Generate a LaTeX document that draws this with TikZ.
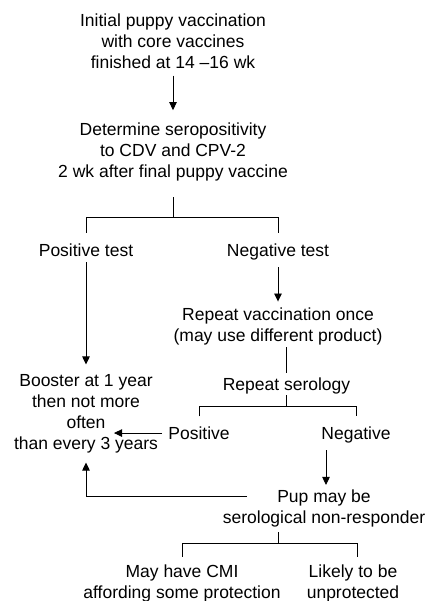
\documentclass[tikz,border=0pt]{standalone}
\usepackage{fontspec}
\setmainfont{Liberation Sans}
\usetikzlibrary{calc,arrows.meta}
\begin{document}
\begin{tikzpicture}[x=1pt,y=-1pt,
  txt/.style={inner sep=0pt, align=center, font=\fontsize{17.5}{21}\selectfont},
  ln/.style={line width=0.9pt},
  arr/.style={ln,-{Triangle[length=8pt,width=7.5pt]}}]
\useasboundingbox (0,0) rectangle (427,601);

\node[txt] (init) at (173,41) {Initial puppy vaccination\\with core vaccines\\finished at 14 –16 wk};
\node[txt] (det) at (173,152) {Determine seropositivity\\to CDV and CPV-2\\2 wk after final puppy vaccine};
\node[txt,anchor=base] (pt) at (86,256.3) {Positive test};
\node[txt,anchor=base] (nt) at (278,256.3) {Negative test};
\node[txt] (repvac) at (278,326.4) {Repeat vaccination once\\(may use different product)};
\node[txt,anchor=base] (repser) at (286.5,390.3) {Repeat serology};
\node[txt] (booster) at (86,413.5) {Booster at 1 year\\then not more\\often\\than every 3 years};
\node[txt,anchor=base] (pos2) at (199,439.3) {Positive};
\node[txt,anchor=base] (neg2) at (356,439.3) {Negative};
\node[txt] (pup) at (324,508.3) {Pup may be\\serological non-responder};
\node[txt] (cmi) at (182,583.3) {May have CMI\\affording some protection};
\node[txt] (likely) at (353,583.3) {Likely to be\\unprotected};

\draw[arr] ($(init.south)+(0,7)$) -- ($(det.north)+(0,-12.5)$);
\draw[ln] ($(det.south)+(0,16)$) -- ++(0,20) coordinate (j1);
\draw[ln] ($(pt.north)+(0,-10.5)$) |- (j1) -| ($(nt.north)+(0,-10.5)$);
\draw[arr] ($(pt.south)+(0,5.7)$) -- ($(booster.north)+(0,-9.5)$);
\draw[arr] ($(nt.south)+(0,7)$) -- ($(repvac.north)+(0,-6)$);
\draw[ln] ($(repvac.south -| repser.north)+(0,2)$) -- ($(repser.north)+(0,-4.5)$);
\draw[ln] ($(repser.south)+(0,1)$) -- ++(0,11) coordinate (j2);
\draw[ln] ($(pos2.north)+(0,-10)$) |- (j2) -| ($(neg2.north)+(0,-10)$);
\draw[arr] ($(pos2.west)+(-6,0)$) -- ($(pos2.west -| booster.center)+(28,0)$);
\draw[arr] ($(neg2.south -| pup.north)+(2,7)$) -- ($(pup.north)+(2,-4.5)$);
\draw[arr] ($(pup.north)+(-77,7.5)$) -| ($(booster.south)+(0,9.5)$);
\draw[ln] ($(pup.south)+(-46,5)$) -- ++(0,11) coordinate (j3);
\draw[ln] ($(cmi.north)+(0,-7.5)$) |- (j3) -| ($(likely.north)+(4,-7.5)$);
\end{tikzpicture}
\end{document}
